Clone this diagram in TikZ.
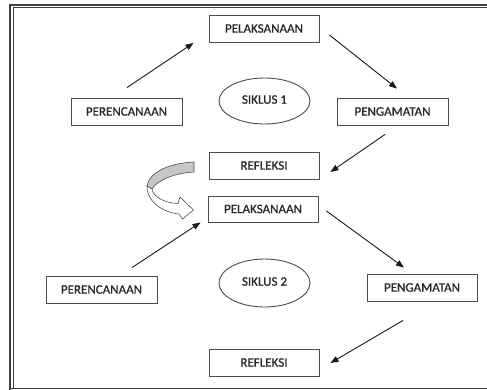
\documentclass[tikz,border=0pt]{standalone}
\usepackage{fontspec}
\setmainfont{Carlito}
\newfontfamily\boxfont{Carlito}[FakeBold=0.6]
\usetikzlibrary{shapes.geometric,arrows.meta,calc}
\begin{document}
\begin{tikzpicture}[x=1pt,y=-1pt,
  stepbox/.style={draw=black!70,line width=0.9pt,minimum width=110pt,minimum height=27pt,inner sep=0pt,font=\boxfont\fontsize{13}{15}\selectfont,text=black!85},
  cyc/.style={draw=black!70,line width=0.9pt,ellipse,inner sep=0pt,font=\boxfont\fontsize{13}{15}\selectfont,text=black!85},
  flow/.style={draw=black!90,line width=0.9pt,-{Triangle[length=8pt,width=6pt]}},
  frameline/.style={draw=black!75}
]
\useasboundingbox (0,0) rectangle (487,389);
\fill[white] (0,0) rectangle (487,389);
% frame
\draw[frameline,line width=1.7pt] (10.2,390) -- (10.2,4.8) -- (490,4.8);
\draw[frameline,line width=0.7pt] (13,388) -- (13,7.2) -- (490,7.2);
\draw[frameline,line width=0.9pt] (10.2,388) -- (490,388);
% cycle 1
\node[stepbox] (pel1) at (264,28.5) {PELAKSANAAN};
\node[stepbox,minimum width=111pt] (per1) at (126.5,111.5) {PERENCANAAN};
\node[stepbox,minimum width=111pt] (peng1) at (392.5,111.5) {PENGAMATAN};
\node[stepbox] (ref1) at (264,165.5) {REFLEKSI};
\node[cyc,minimum width=91pt,minimum height=46pt] (s1) at (264.5,101) {\raisebox{3pt}{SIKLUS 1}};
% cycle 2
\node[stepbox,minimum height=26pt] (pel2) at (263,209) {PELAKSANAAN};
\node[stepbox,minimum width=111pt] (per2) at (101.5,289.5) {PERENCANAAN};
\node[stepbox] (peng2) at (422,287.5) {PENGAMATAN};
\node[stepbox] (ref2) at (264,362.5) {REFLEKSI};
\node[cyc,minimum width=91pt,minimum height=48pt] (s2) at (264.5,283) {\raisebox{3pt}{SIKLUS 2}};
% arrows
\draw[flow] ($(per1.north)+(0.5,-10)$) -- ($(pel1.south west)+(-15,0.5)$);
\draw[flow] ($(pel1.east)+(10,6.5)$) -- ($(peng1.north)+(4.5,-9)$);
\draw[flow] ($(peng1.south)+(-7.5,9)$) -- ($(ref1.east)+(11,6.5)$);
\draw[flow] ($(per2.north)+(30.5,-8)$) -- ($(pel2.south west)+(-7,0)$);
\draw[flow] ($(pel2.east)+(8,2)$) -- ($(peng2.north)+(-18,-6)$);
\draw[flow] ($(peng2.south)+(-19,19)$) -- ($(ref2.east)+(11,0.5)$);
% curved transition arrow
\draw[black!70,line width=0.6pt,fill=black!22] (194,162) .. controls (170,163) and (149,172) .. (147,186)
  -- (152,189) .. controls (157,180) and (175,173) .. (194,172) -- cycle;
\draw[black!70,line width=0.6pt,fill=white] (147,186) .. controls (146,199) and (160,212) .. (179,214)
  -- (182.5,219) -- (193.5,210) -- (180,197) -- (178,203.5) .. controls (165,203) and (153,197) .. (152,189) -- cycle;
\end{tikzpicture}
\end{document}
